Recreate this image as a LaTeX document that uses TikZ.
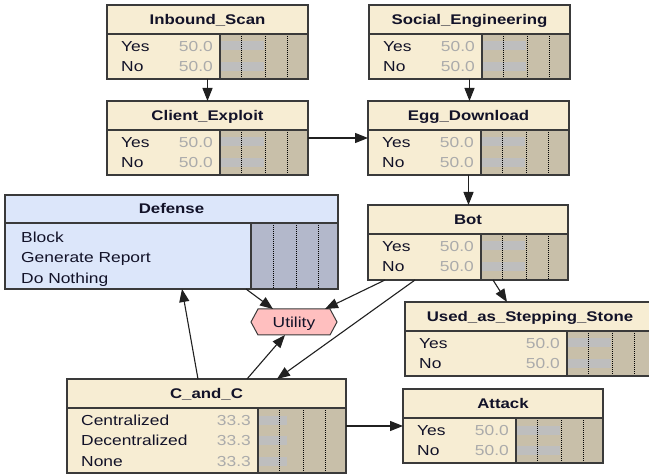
\documentclass[tikz,border=0pt]{standalone}
\usepackage{fontspec}
\setmainfont[FakeStretch=1.2]{Liberation Sans}
\usetikzlibrary{arrows.meta,calc}
\definecolor{nodebg}{HTML}{F7EDD3}
\definecolor{barbg}{HTML}{C8BFA9}
\definecolor{barfg}{HTML}{BEBEBE}
\definecolor{defbg}{HTML}{DCE6FA}
\definecolor{defbar}{HTML}{B3B8CB}
\definecolor{bordc}{HTML}{3A3A3A}
\definecolor{txtc}{HTML}{121228}
\definecolor{valc}{HTML}{ABABAB}
\definecolor{utilbg}{HTML}{FFBFBF}
\definecolor{edgec}{HTML}{202020}
\tikzset{
  bnfill/.style={fill=nodebg, draw=none, inner sep=0pt, outer sep=0pt},
  bnline/.style={draw=bordc, line width=1.3pt},
  dotl/.style={draw=black, line width=0.8pt, dash pattern=on 1pt off 1pt},
  stxt/.style={inner sep=0pt, text=txtc, font=\fontsize{14.5}{16}\selectfont, text height=10.4pt, text depth=0pt},
  vtxt/.style={inner sep=0pt, text=valc, font=\fontsize{14.5}{16}\selectfont, text height=10.4pt, text depth=0pt},
  ttxt/.style={inner sep=0pt, text=txtc, font=\fontsize{14}{16}\selectfont\bfseries, text height=10pt, text depth=0pt},
  edge/.style={draw=edgec, line width=1.1pt, -{Triangle[length=13pt,width=10pt]}},
}
\newcommand{\bnnode}[8]{%
  \node[bnfill, minimum width=#4pt, minimum height=#8pt, anchor=north west] (#1) at (#2,#3) {};
  \fill[barbg] ($(#1.north west)+(#5,29)$) rectangle (#1.south east);
  \foreach \lab/\val/\pc [count=\i from 0] in {#7} {
    \pgfmathsetmacro{\ry}{41+20.5*\i}
    \fill[barfg] ($(#1.north west)+(#5,\ry-4.5)$) rectangle ++({0.88*\pc},9);
    \node[stxt, anchor=west] (#1-s\i) at ($(#1.north west)+(14,\ry)$) {\lab};
    \node[vtxt, anchor=east] (#1-v\i) at ($(#1.north west)+(#5-7,\ry)$) {\val};
  }
  \foreach \d in {21,45,67} \draw[dotl] ($(#1.north west)+(#5+\d,29)$) -- ($(#1.south west)+(#5+\d,0)$);
  \draw[bnline] ($(#1.north west)+(0,29)$) -- ($(#1.north east)+(0,29)$);
  \draw[bnline] ($(#1.north west)+(#5,29)$) -- ($(#1.south west)+(#5,0)$);
  \draw[bnline] (#1.north west) rectangle (#1.south east);
  \node[ttxt] (#1-t) at ($(#1.north)+(0,14.5)$) {#6};
}
\begin{document}
\begin{tikzpicture}[x=1pt,y=-1pt]
\useasboundingbox (0,0) rectangle (649,476);
\clip (0,0) rectangle (649,476);
\fill[white] (0,0) rectangle (649,476);

\bnnode{inb}{107}{5}{201}{113}{Inbound\_Scan}{Yes/50.0/50,No/50.0/50}{74}
\bnnode{soc}{369}{5}{201}{113}{Social\_Engineering}{Yes/50.0/50,No/50.0/50}{74}
\bnnode{cli}{107}{101}{201}{113}{Client\_Exploit}{Yes/50.0/50,No/50.0/50}{74}
\bnnode{egg}{368}{101}{201}{113}{Egg\_Download}{Yes/50.0/50,No/50.0/50}{74}
\bnnode{bot}{368}{205}{200}{113}{Bot}{Yes/50.0/50,No/50.0/50}{75}
\bnnode{used}{405}{302}{250}{162}{Used\_as\_Stepping\_Stone}{Yes/50.0/50,No/50.0/50}{74}
\bnnode{cc}{67}{379}{279}{191}{C\_and\_C}{Centralized/33.3/33.3,Decentralized/33.3/33.3,None/33.3/33.3}{94}
\bnnode{att}{403}{389}{200}{113}{Attack}{Yes/50.0/50,No/50.0/50}{74}

% Defense (decision node)
\node[bnfill, fill=defbg, minimum width=333pt, minimum height=94pt, anchor=north west] (def) at (5,195) {};
\fill[defbar] ($(def.north west)+(246,28)$) rectangle (def.south east);
\foreach \d in {22,45,67} \draw[dotl] ($(def.north west)+(246+\d,28)$) -- ($(def.south west)+(246+\d,0)$);
\draw[bnline] ($(def.north west)+(0,28)$) -- ($(def.north east)+(0,28)$);
\draw[bnline] ($(def.north west)+(246,28)$) -- ($(def.south west)+(246,0)$);
\draw[bnline] (def.north west) rectangle (def.south east);
\node[ttxt] (def-t) at ($(def.north)+(0,14)$) {Defense};
\node[stxt, anchor=west] (def-s0) at ($(def.north west)+(16,42)$) {Block};
\node[stxt, anchor=west] (def-s1) at ($(def.north west)+(16,62.5)$) {Generate Report};
\node[stxt, anchor=west] (def-s2) at ($(def.north west)+(16,83)$) {Do Nothing};

% Utility node
\node[inner sep=0pt, outer sep=0pt, minimum width=72pt, minimum height=26pt] (util) at (294,322) {};
\draw[fill=utilbg, draw=bordc, line width=1pt] (util.north west) -- (util.north east) -- ($(util.east)+(7,0)$) -- (util.south east) -- (util.south west) -- ($(util.west)+(-7,0)$) -- cycle;
\node[stxt, text=txtc] (util-t) at (util) {Utility};

% connectors
\draw[edge] (inb.south) -- (cli.north);
\draw[edge] (soc.south) -- (soc.south |- egg.north);
\draw[edge] (cli.east) -- (egg.west);
\draw[edge] (egg.south) -- (egg.south |- bot.north);
\draw[edge] (cc.east) -- (cc.east -| att.west);
\draw[edge] ($(cc.north west)+(131,0)$) -- ($(def.south west)+(177,0)$);
\draw[edge] ($(def.south west)+(241,0)$) -- ($(util.north west)+(15,0)$);
\draw[edge] ($(bot.south west)+(17,0)$) -- ($(util.north east)+(-5,0)$);
\draw[edge] ($(bot.south west)+(47,0)$) -- ($(cc.north west)+(210,0)$);
\draw[edge] ($(cc.north west)+(180,0)$) -- ($(util.south west)+(27,0)$);
\draw[edge] ($(bot.south west)+(125,0)$) -- ($(used.north west)+(102,0)$);
\end{tikzpicture}
\end{document}
